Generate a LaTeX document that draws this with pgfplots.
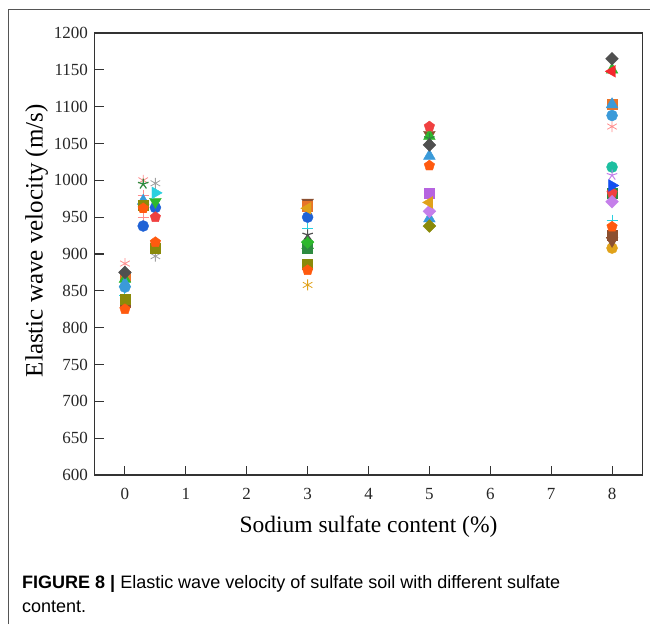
\documentclass[border=0pt]{standalone}
\usepackage{pgfplots}
\pgfplotsset{compat=1.18}
\usepackage{fontspec}
\setmainfont{Liberation Serif}
\newfontfamily\capfont{Liberation Sans}
\definecolor{cGray}{HTML}{505050}
\definecolor{cRed}{HTML}{F5282D}
\definecolor{cRedP}{HTML}{F04040}
\definecolor{cGreen}{HTML}{2DB82D}
\definecolor{cLBlue}{HTML}{3A9AD9}
\definecolor{cOrange}{HTML}{E8742A}
\definecolor{cBlue}{HTML}{1F62D6}
\definecolor{cPink}{HTML}{FF8C8C}
\definecolor{cTeal}{HTML}{1CBFA0}
\definecolor{cViolet}{HTML}{C57FEA}
\definecolor{cBlueR}{HTML}{1450F0}
\definecolor{cPurple}{HTML}{B664E0}
\definecolor{cGold}{HTML}{E0A21A}
\definecolor{cOlive}{HTML}{8A8A0A}
\definecolor{cOrRed}{HTML}{FF5A0F}
\definecolor{cCyan}{HTML}{2AD0E0}
\definecolor{cBrown}{HTML}{8C5030}
\definecolor{cDGreen}{HTML}{2E8B40}
\definecolor{cGrayA}{HTML}{A0A0A0}
\definecolor{cFrame}{HTML}{555555}
\begin{document}
\begin{tikzpicture}
\path[use as bounding box] (0pt,0pt) rectangle (650pt,624pt);
\draw[cFrame, line width=1pt] (8pt,0pt) -- (8pt,614pt) -- (651pt,614pt);
\begin{axis}[
  at={(94.5pt,149pt)}, anchor=south west,
  scale only axis, width=548pt, height=442pt,
  xmin=-0.5, xmax=8.5, ymin=600, ymax=1200,
  xtick={0,1,...,8}, ytick={600,650,...,1200},
  xtick pos=bottom, ytick pos=left, tick align=inside,
  major tick length=9pt,
  axis line style={line width=1.1pt, color=black!80},
  tick style={line width=1.1pt, color=black!80},
  /pgf/number format/assume math mode=true,
  /pgf/number format/set thousands separator={},
  ticklabel style={font=\fontsize{17}{19}\selectfont, color=black!85},
  yticklabel style={xshift=-3pt},
  xticklabel style={yshift=-10pt},
  xlabel={Sodium sulfate content (\%)},
  ylabel={Elastic wave velocity (m/s)},
  xlabel style={font=\fontsize{23.5}{26}\selectfont, yshift=-9pt},
  ylabel style={font=\fontsize{25}{28}\selectfont, at={(ticklabel cs:0.53)}, yshift=-1pt},
  every axis plot/.append style={only marks, mark size=5.5pt},
  tri/.style={mark=triangle*, mark size=6.8pt},
  clip=false,
]
\addplot[cCyan, mark=+, mark options={line width=1pt}] coordinates {(0,843) (8,946) (3,935)};
\addplot[cPink, mark=asterisk, mark options={line width=0.8pt}] coordinates {(0,887) (0.3,1000) (8,1073)};
\addplot[cPink, mark=+, mark options={line width=0.8pt}] coordinates {(0.3,980) (0.3,950)};
\addplot[cGrayA, mark=asterisk, mark options={line width=0.8pt}] coordinates {(0.5,897) (0.5,996)};
\addplot[cGold, mark=asterisk, mark options={line width=0.8pt}] coordinates {(3,858)};
\addplot[cGold, mark=*] coordinates {(8,908)};
\addplot[cBrown, mark=square*, mark size=5pt] coordinates {(8,925) (0,835)};
\addplot[cBrown, tri, mark options={rotate=180}] coordinates {(3,970) (8,918) (5,1062)};
\addplot[cOrange, mark=square*, mark size=5pt] coordinates {(8,1103) (0,870) (3,965)};
\addplot[cGreen, tri] coordinates {(0,866) (5,1060) (8,1150) (3,912)};
\addplot[cRed, tri, mark options={rotate=90}] coordinates {(8,1148)};
\addplot[cDGreen, mark=square*, mark size=5pt] coordinates {(8,982) (3,908)};
\addplot[cGreen, mark=square*, mark size=4.5pt, mark options={rotate=45}] coordinates {(3,916)};
\addplot[cLBlue, mark=*] coordinates {(8,1088) (0,855)};
\addplot[cLBlue, tri] coordinates {(0.3,972) (5,1033) (5,948) (8,1103) (0,860)};
\addplot[cBlue, mark=*] coordinates {(0.3,938) (0.5,963) (3,950)};
\addplot[cRedP, mark=pentagon*] coordinates {(0.5,950) (5,1073) (8,983)};
\addplot[cTeal, mark=*] coordinates {(8,1018)};
\addplot[cViolet, mark=star, mark options={line width=1pt}] coordinates {(8,1007)};
\addplot[cBlueR, tri, mark options={rotate=-90}] coordinates {(8,993)};
\addplot[cPurple, mark=square*, mark size=5pt] coordinates {(5,983)};
\addplot[cViolet, mark=square*, mark size=4.5pt, mark options={rotate=45}] coordinates {(5,958) (8,971)};
\addplot[cGold, tri, mark options={rotate=90}] coordinates {(5,970) (3,962)};
\addplot[cOlive, mark=square*, mark size=4.5pt, mark options={rotate=45}] coordinates {(5,938)};
\addplot[cOlive, mark=square*, mark size=5pt] coordinates {(0,838) (0.5,908) (3,886) (0.3,966)};
\addplot[cOrRed, mark=pentagon*] coordinates {(0,825) (0.3,962) (0.5,916) (3,878) (5,1020) (8,937)};
\addplot[cDGreen, mark=star, mark options={line width=1.2pt}] coordinates {(0.3,995) (5,1057)};
\addplot[cGray, mark=star, mark options={line width=1.2pt}] coordinates {(3,926)};
\addplot[cGreen, tri, mark options={rotate=180}] coordinates {(0.5,971)};
\addplot[cCyan, tri, mark options={rotate=-90}] coordinates {(0.5,983)};
\addplot[cGray, mark=square*, mark size=4.5pt, mark options={rotate=45}] coordinates {(0,875) (5,1048) (8,1165)};
\end{axis}
\node[anchor=base west, inner sep=0pt, font=\capfont\fontsize{18}{22}\selectfont] at (22pt,36pt)
  {\textbf{FIGURE 8 |} Elastic wave velocity of sulfate soil with different sulfate};
\node[anchor=base west, inner sep=0pt, font=\capfont\fontsize{18}{22}\selectfont] at (22pt,12pt)
  {content.};
\end{tikzpicture}
\end{document}
